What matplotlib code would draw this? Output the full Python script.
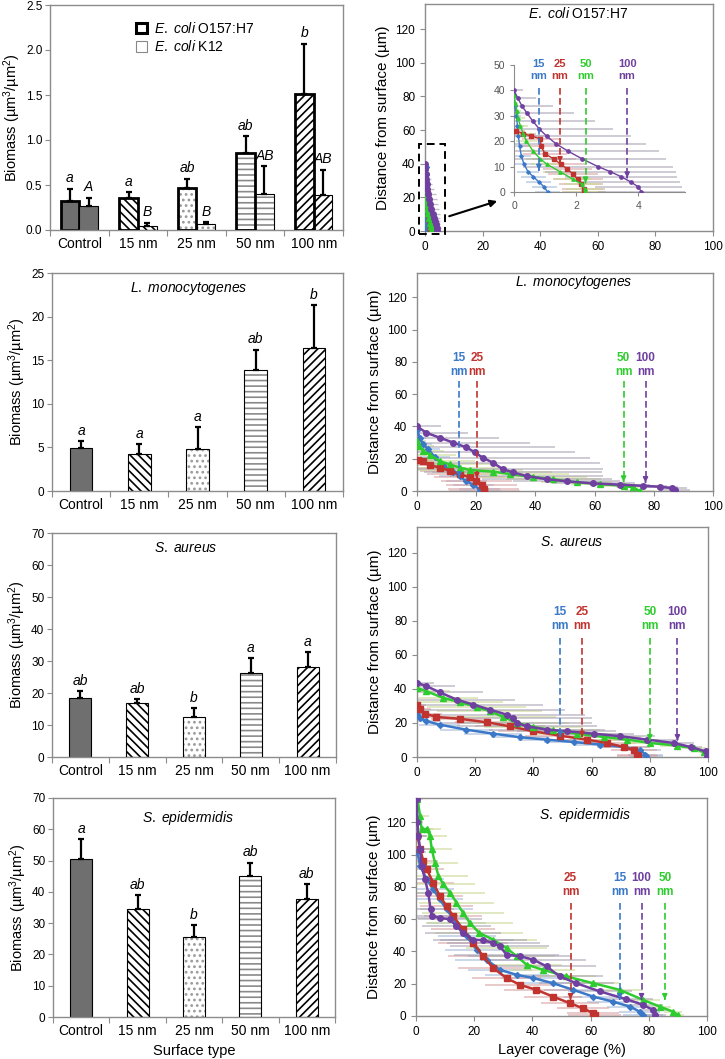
import numpy as np
import matplotlib.pyplot as plt
from matplotlib.patches import Patch, Rectangle

plt.rcParams['font.family'] = ['Liberation Sans', 'DejaVu Sans']
plt.rcParams['mathtext.fontset'] = 'custom'
plt.rcParams['mathtext.rm'] = 'Liberation Sans'
plt.rcParams['mathtext.it'] = 'Liberation Sans:italic'
plt.rcParams['mathtext.bf'] = 'Liberation Sans:bold'
plt.rcParams['hatch.linewidth'] = 1.2

# ---- biomass bar data ----
surfaces = ['Control', '15 nm', '25 nm', '50 nm', '100 nm']

ecoli_o157 = [0.32, 0.36, 0.47, 0.86, 1.51]
ecoli_o157_err = [0.14, 0.06, 0.10, 0.18, 0.56]
ecoli_o157_let = ['a', 'a', 'ab', 'ab', 'b']
ecoli_k12 = [0.27, 0.05, 0.07, 0.40, 0.39]
ecoli_k12_err = [0.09, 0.03, 0.02, 0.31, 0.28]
ecoli_k12_let = ['A', 'B', 'B', 'AB', 'AB']

lmono_bio = [4.9, 4.2, 4.8, 13.9, 16.4]
lmono_err = [0.8, 1.2, 2.5, 2.3, 4.9]
lmono_let = ['a', 'a', 'a', 'ab', 'b']

saur_bio = [18.4, 16.8, 12.6, 26.3, 28.1]
saur_err = [2.2, 1.3, 2.6, 4.6, 4.6]
saur_let = ['ab', 'ab', 'b', 'a', 'a']

sepi_bio = [50.5, 34.5, 25.6, 45.0, 37.7]
sepi_err = [6.3, 4.4, 3.7, 4.3, 4.7]
sepi_let = ['a', 'ab', 'b', 'ab', 'ab']

# ---- layer coverage profiles (coverage %, depth um, sd) ----
sizes = ['15', '25', '50', '100']

ec15_depth = [38, 34, 30, 26, 22, 18, 14, 11, 8, 6, 4, 2, 0]
ec15_cov = [0.0, 0.04, 0.08, 0.11, 0.14, 0.18, 0.24, 0.32, 0.45, 0.62, 0.8, 0.97, 1.08]
ec15_sd = [0.05, 0.1, 0.15, 0.2, 0.25, 0.3, 0.3, 0.35, 0.35, 0.4, 0.4, 0.4, 0.4]
ec25_depth = [24, 23, 22, 21, 18, 15, 13, 11, 9, 7, 5, 3, 1, 0]
ec25_cov = [0.05, 0.3, 0.55, 0.85, 0.87, 1.0, 1.28, 1.5, 1.72, 1.9, 2.05, 2.15, 2.24, 2.25]
ec25_sd = [0.3, 0.4, 0.5, 0.6, 0.6, 0.7, 0.7, 0.8, 0.8, 0.8, 0.8, 0.7, 0.7, 0.7]
ec50_depth = [38, 35, 32, 29, 26, 23, 20, 16, 13, 11, 8, 5, 3, 1, 0]
ec50_cov = [0.0, 0.04, 0.09, 0.14, 0.2, 0.3, 0.4, 0.62, 0.85, 1.05, 1.48, 1.9, 2.2, 2.27, 2.28]
ec50_sd = [0.05, 0.1, 0.15, 0.2, 0.25, 0.3, 0.35, 0.4, 0.45, 0.5, 0.55, 0.6, 0.6, 0.6, 0.6]
ec100_depth = [40, 37, 34, 31, 28, 25, 22, 19, 16, 13, 10, 8, 6, 4, 2, 0]
ec100_cov = [0.0, 0.12, 0.25, 0.42, 0.6, 0.8, 1.05, 1.35, 1.75, 2.2, 2.7, 3.1, 3.45, 3.75, 4.0, 4.1]
ec100_sd = [0.3, 0.6, 1.0, 1.5, 2.0, 2.4, 2.7, 2.9, 2.9, 2.7, 2.4, 2.1, 1.8, 1.6, 1.4, 1.4]
ec_arrow_x = [0.8, 1.48, 2.3, 3.64]
ec_arrow_tip = [7.5, 10.5, 2.5, 4.5]

lm15_depth = [38, 33, 29, 26, 21, 16, 12, 9, 6, 4, 1, 0]
lm15_cov = [0.0, 0.9, 2.0, 3.7, 6.0, 8.8, 12.2, 14.4, 16.7, 19.0, 21.2, 21.4]
lm15_sd = [1, 2, 3, 4, 5, 6, 7, 7, 7, 7, 7, 7]
lm25_depth = [19, 18.5, 16, 14.5, 12.5, 10.5, 8.5, 6.5, 4, 1.5, 0]
lm25_cov = [0.3, 2.0, 4.3, 7.7, 11.0, 14.4, 17.8, 20.0, 21.8, 22.6, 22.7]
lm25_sd = [5, 6, 8, 9, 10, 11, 12, 12, 12, 12, 12]
lm50_depth = [31, 28, 25, 22.5, 18.5, 16.5, 14.5, 13, 12, 10.5, 8.7, 7.3, 5.3, 4.3, 3.2, 2.2, 0]
lm50_cov = [0.0, 0.7, 2.0, 4.3, 7.7, 11.0, 14.4, 17.8, 25.7, 31.4, 39.3, 46.0, 54.0, 61.9, 69.8, 73.1, 75.2]
lm50_sd = [3, 5, 7, 9, 12, 14, 16, 18, 20, 20, 18, 16, 12, 10, 8, 6, 5]
lm100_depth = [40, 36, 33, 30, 27, 24, 20.5, 17.5, 13.5, 11.5, 9.3, 7.3, 6, 4.7, 3.9, 3.2, 2.6, 1.8, 0.6]
lm100_cov = [0.0, 3.2, 7.7, 12.2, 16.7, 19.5, 22.3, 25.7, 29.0, 32.5, 37.0, 43.8, 50.6, 59.6, 68.6, 76.5, 82.2, 86.1, 87.2]
lm100_sd = [8, 14, 20, 26, 30, 34, 36, 36, 34, 30, 26, 22, 18, 14, 10, 8, 6, 5, 5]
lm_arrow_x = [14.2, 20.2, 69.8, 77.2]
lm_arrow_tip = [6.5, 6.0, 4.0, 3.5]

sa15_depth = [25.5, 23, 21, 19, 16, 13.7, 11.6, 10.2, 8.8, 7.3, 5.9, 3.9, 1.4, 0.4]
sa15_cov = [0, 0.9, 3.2, 7.8, 17.0, 26.2, 35.4, 44.6, 53.8, 63.0, 71.0, 76.8, 78.5, 78.7]
sa15_sd = [2, 3, 5, 7, 9, 10, 10, 10, 10, 9, 8, 7, 6, 6]
sa25_depth = [30.8, 28.2, 25.5, 23.5, 22.4, 20.4, 18, 15.1, 12.5, 10.2, 8.2, 5.9, 3.9, 1.4, 0.4]
sa25_cov = [0, 0.9, 2.6, 6.7, 14.7, 23.9, 32.0, 40.0, 49.2, 58.4, 65.3, 71.0, 74.5, 75.6, 75.9]
sa25_sd = [3, 4, 6, 8, 10, 11, 12, 12, 12, 11, 10, 9, 8, 7, 7]
sa50_depth = [40.6, 38.6, 34.7, 32.2, 29.4, 26.9, 23.5, 20, 17.6, 15.7, 13.7, 11.8, 10.2, 8.2, 6.7, 5.1, 2.7, 0.4]
sa50_cov = [0, 3.2, 9.0, 14.7, 20.5, 25.0, 29.7, 34.3, 40.0, 46.9, 54.9, 64.1, 72.2, 80.2, 89.4, 95.2, 98.6, 99.8]
sa50_sd = [5, 8, 12, 15, 17, 18, 18, 18, 17, 16, 15, 13, 11, 9, 6, 4, 2, 1]
sa100_depth = [43.5, 41.6, 38, 33.7, 30.8, 27.8, 24.9, 22.9, 20, 18, 16.1, 15.1, 13.7, 12.2, 10.2, 8.2, 5.9, 3.3, 0.8]
sa100_cov = [0, 3.2, 7.8, 13.6, 19.3, 25.0, 30.8, 33.1, 34.3, 37.7, 44.6, 51.5, 60.7, 69.9, 79.1, 88.3, 94.0, 99.2, 99.8]
sa100_sd = [6, 10, 15, 20, 24, 26, 27, 27, 26, 24, 20, 17, 14, 12, 10, 7, 4, 2, 1]
sa_arrow_x = [49.2, 56.7, 80.0, 89.5]
sa_arrow_tip = [10, 10, 8, 8]

se15_depth = [101.3, 93, 84.7, 78.5, 72.2, 66, 57.7, 49.4, 41.1, 34.9, 28.6, 25.5, 23.5, 20.3, 16.2, 12, 8.9, 5.8, 2.7, 0.6]
se15_cov = [0.5, 1.4, 3.7, 5.9, 8.2, 10.5, 13.9, 17.4, 20.8, 24.3, 28.8, 34.6, 40.3, 47.1, 54.0, 60.9, 67.7, 73.5, 76.9, 78.0]
se15_sd = [3, 4, 6, 7, 8, 9, 10, 10, 11, 11, 11, 11, 11, 11, 10, 10, 9, 8, 7, 7]
se25_depth = [111.7, 103.4, 96.1, 90.9, 82.6, 74.3, 68.1, 61.9, 53.6, 45.3, 37, 29.7, 23.5, 19.3, 16.2, 12, 7.9, 4.8, 1.7, 0.6]
se25_cov = [0.5, 1.4, 2.5, 3.7, 5.9, 8.2, 10.5, 12.8, 16.2, 19.7, 23.1, 26.5, 31.1, 35.7, 41.4, 47.1, 52.9, 57.4, 60.9, 61.4]
se25_sd = [3, 4, 5, 6, 7, 8, 9, 10, 11, 12, 12, 12, 12, 12, 11, 10, 10, 9, 9, 9]
se50_depth = [134.5, 124, 115.8, 115.8, 111.7, 103.4, 95, 86.8, 81.6, 76.4, 70.2, 63.9, 57.7, 51.5, 47.3, 42.1, 37,
              31.8, 28.6, 24.5, 20.3, 16.2, 10, 5.8, 2.7, 0.6]
se50_cov = [0.5, 1.4, 1.9, 3.7, 4.8, 5.4, 6.5, 7.7, 9.4, 11.7, 13.9, 16.2, 18.5, 21.7, 26.5, 31.1, 34.6,
            38.0, 43.7, 51.7, 60.9, 70.0, 78.0, 83.8, 88.3, 90.0]
se50_sd = [2, 3, 4, 5, 6, 7, 8, 10, 11, 12, 13, 14, 15, 15, 15, 14, 13, 12, 11, 10, 9, 8, 6, 4, 3, 2]
se100_depth = [134.5, 120, 111.7, 103.4, 93, 84.7, 76.4, 66, 61.9, 60.8, 59.8, 55.6, 51.5, 47.3, 46.9, 45.3, 43.2,
               38, 37, 34.9, 30.7, 24.5, 20.3, 15.2, 10.4, 6.9, 3.7, 0.6]
se100_cov = [0.2, 0.5, 0.8, 1.4, 1.9, 3.1, 4.2, 5.0, 5.4, 8.2, 11.7, 13.9, 16.2, 19.7, 23.1, 26.5, 28.8,
             31.1, 35.7, 40.3, 44.9, 49.4, 55.1, 63.2, 72.3, 78.0, 81.5, 82.0]
se100_sd = [1, 2, 3, 4, 5, 6, 7, 8, 9, 10, 11, 12, 13, 14, 15, 16, 17, 18, 18, 18, 17, 15, 13, 11, 9, 7, 5, 4]
se_arrow_x = [70.0, 53.1, 85.5, 77.5]
se_arrow_tip = [8.5, 8.5, 8.5, 8.5]

# ---- styles ----
CONTROL_GRAY = '#6f6f6f'
HATCHES = ['', '\\\\\\\\', '...', '---', '////']
HATCH_COLORS = ['black', 'black', '#9a9a9a', '#8a8a8a', 'black']
COLORS = ['#3b78c8', '#c0332f', '#2ecc2e', '#7040a0']
ERR_COLORS = ['#9fb8d8', '#d8a0a0', '#c8d890', '#a8a2b4']
MARKERS = ['D', 's', '^', 'o']
MSIZES = [3, 4, 4, 4]
SPINE = '#8c8c8c'


def style_axes(ax):
    for s in ax.spines.values():
        s.set_color(SPINE)
        s.set_linewidth(1.0)
    ax.tick_params(colors=SPINE, labelcolor='black', labelsize=8.5)


def draw_bars(ax, xs, vals, errs, letters, width, lw, ytop):
    for x, v, h, hc in zip(xs, vals, HATCHES, HATCH_COLORS):
        if h == '':
            ax.bar(x, v, width, color=CONTROL_GRAY, edgecolor='black', lw=lw, zorder=2)
        else:
            ax.bar(x, v, width, color='white', edgecolor=hc, hatch=h, lw=0, zorder=2)
            ax.bar(x, v, width, fill=False, edgecolor='black', lw=lw, zorder=3)
    ax.errorbar(xs, vals, yerr=[np.zeros(len(vals)), errs], fmt='none', ecolor='black',
                elinewidth=1.6, capsize=2.5, capthick=1.6, zorder=4)
    for x, v, e, t in zip(xs, vals, errs, letters):
        ax.text(x, v + e + ytop * 0.015, t, ha='center', va='bottom', style='italic', fontsize=10)


def bar_axes(ax, ymax, ystep, fmt=None):
    style_axes(ax)
    ax.set_xlim(-0.5, 4.5)
    ax.set_ylim(0, ymax)
    ax.set_yticks(np.arange(0, ymax + ystep / 2, ystep))
    if fmt:
        ax.set_yticklabels([fmt % v for v in np.arange(0, ymax + ystep / 2, ystep)])
    ax.set_xticks(np.arange(-0.5, 5, 1))
    ax.set_xticklabels([])
    ax.set_xticks(np.arange(5), minor=True)
    ax.set_xticklabels(surfaces, minor=True)
    ax.tick_params(axis='x', which='minor', length=0, pad=5)
    ax.tick_params(axis='x', which='major', length=4)
    ax.tick_params(axis='y', pad=2)
    ax.set_ylabel('Biomass (µm$^3$/µm$^2$)', fontsize=10.5, labelpad=2)


def draw_profiles(ax, profiles, arrow_x, arrow_tip, arrow_top, label_y, lw=1.8, ms_scale=1.0, fs=8.5):
    for (cov, dep, sd), ec in zip(profiles, ERR_COLORS):
        ax.errorbar(cov, dep, xerr=sd, fmt='none', ecolor=ec, elinewidth=1.1, alpha=0.7, capsize=0, zorder=1)
    for (cov, dep, sd), c, m, ms in zip(profiles, COLORS, MARKERS, MSIZES):
        ax.plot(cov, dep, color=c, lw=lw, marker=m, ms=ms * ms_scale, zorder=3)
    for x, tip, s, c in zip(arrow_x, arrow_tip, sizes, COLORS):
        ax.plot([x, x], [arrow_top, tip + 3 * (arrow_top / 70)], color=c, ls=(0, (4, 2)), lw=1.2, zorder=4)
        ax.annotate('', xy=(x, tip), xytext=(x, tip + 4 * (arrow_top / 70)),
                    arrowprops=dict(arrowstyle='-|>', color=c, lw=1.2, mutation_scale=7), zorder=4)
        ax.text(x, label_y, s + '\nnm', color=c, ha='center', va='center', fontweight='bold',
                fontsize=fs, linespacing=1.25)


def profile_axes(ax, title, tx, ty):
    style_axes(ax)
    ax.set_xlim(0, 100)
    ax.set_ylim(0, 135)
    ax.set_xticks(np.arange(0, 101, 20))
    ax.set_yticks(np.arange(0, 121, 20))
    ax.set_ylabel('Distance from surface (µm)', fontsize=11)
    ax.text(tx, ty, title, transform=ax.transAxes, ha='center', va='center', fontsize=10)


fig = plt.figure(figsize=(7.25, 10.59), dpi=100)
W, H = 725.0, 1059.0


def px_axes(x0, y0, x1, y1):
    return fig.add_axes([x0 / W, 1 - y1 / H, (x1 - x0) / W, (y1 - y0) / H])


xs = np.arange(5)

# ---- row 1: E. coli ----
ax = px_axes(50, 5, 343, 230)
bar_axes(ax, 2.5, 0.5, '%.1f')
draw_bars(ax, xs - 0.16, ecoli_o157, ecoli_o157_err, ecoli_o157_let, 0.32, 2.0, 2.5)
draw_bars(ax, xs + 0.16, ecoli_k12, ecoli_k12_err, ecoli_k12_let, 0.32, 0.8, 2.5)
handles = [Patch(facecolor='white', edgecolor='black', lw=2.2),
           Patch(facecolor='white', edgecolor='#888888', lw=0.8)]
ax.legend(handles, [r'$\it{E.\ coli}$ O157:H7', r'$\it{E.\ coli}$ K12'], loc='upper left',
          bbox_to_anchor=(0.25, 0.985), frameon=False, fontsize=10, handlelength=0.8,
          handleheight=0.8, labelspacing=0.25, handletextpad=0.5)

ec_profiles = [(ec15_cov, ec15_depth, ec15_sd), (ec25_cov, ec25_depth, ec25_sd),
               (ec50_cov, ec50_depth, ec50_sd), (ec100_cov, ec100_depth, ec100_sd)]
ax = px_axes(425, 4, 713, 231)
profile_axes(ax, r'$\it{E.\ coli}$ O157:H7', 0.53, 0.96)
for (cov, dep, sd), ec in zip(ec_profiles, ERR_COLORS):
    ax.errorbar(cov, dep, xerr=sd, fmt='none', ecolor=ec, elinewidth=1.0, alpha=0.7, capsize=0, zorder=1)
for (cov, dep, sd), c, m in zip(ec_profiles, COLORS, MARKERS):
    ax.plot(cov, dep, color=c, lw=2.5, marker=m, ms=4, zorder=3)
ax.add_patch(Rectangle((-2.2, -1.6), 9.3, 53.1, fill=False, ls=(0, (4, 2.5)), lw=1.4,
                       edgecolor='black', clip_on=False, zorder=5))
ax.annotate('', xy=(26, 18.3), xytext=(7.5, 8.3),
            arrowprops=dict(arrowstyle='-|>', color='black', lw=1.5, mutation_scale=10))

ins = px_axes(514, 65, 685, 192)
ins.set_xlim(0, 5.5)
ins.set_ylim(0, 50)
ins.patch.set_alpha(0)
for s in ['top', 'right']:
    ins.spines[s].set_visible(False)
for s in ['left', 'bottom']:
    ins.spines[s].set_color(SPINE)
ins.set_xticks([0, 2, 4])
ins.set_yticks(np.arange(0, 51, 10))
ins.tick_params(colors=SPINE, labelcolor='#555555', labelsize=7.5, length=3)
draw_profiles(ins, ec_profiles, ec_arrow_x, ec_arrow_tip, 41, 48, lw=1.0, ms_scale=0.6, fs=8)

# ---- row 2: L. monocytogenes ----
ax = px_axes(52, 273, 343, 491)
bar_axes(ax, 25, 5)
draw_bars(ax, xs, lmono_bio, lmono_err, lmono_let, 0.39, 0.8, 25)
ax.text(0.47, 0.93, r'$\it{L.\ monocytogenes}$', transform=ax.transAxes, ha='center', va='center', fontsize=10)

ax = px_axes(417, 273, 713, 491)
profile_axes(ax, r'$\it{L.\ monocytogenes}$', 0.53, 0.955)
lm_profiles = [(lm15_cov, lm15_depth, lm15_sd), (lm25_cov, lm25_depth, lm25_sd),
               (lm50_cov, lm50_depth, lm50_sd), (lm100_cov, lm100_depth, lm100_sd)]
draw_profiles(ax, lm_profiles, lm_arrow_x, lm_arrow_tip, 68, 78)

# ---- row 3: S. aureus ----
ax = px_axes(52, 533, 336, 757)
bar_axes(ax, 70, 10)
draw_bars(ax, xs, saur_bio, saur_err, saur_let, 0.39, 0.8, 70)
ax.text(0.47, 0.935, r'$\it{S.\ aureus}$', transform=ax.transAxes, ha='center', va='center', fontsize=10)

ax = px_axes(417, 527, 708, 757)
profile_axes(ax, r'$\it{S.\ aureus}$', 0.53, 0.935)
sa_profiles = [(sa15_cov, sa15_depth, sa15_sd), (sa25_cov, sa25_depth, sa25_sd),
               (sa50_cov, sa50_depth, sa50_sd), (sa100_cov, sa100_depth, sa100_sd)]
draw_profiles(ax, sa_profiles, sa_arrow_x, sa_arrow_tip, 70, 81)

# ---- row 4: S. epidermidis ----
ax = px_axes(53, 798, 335, 1017)
bar_axes(ax, 70, 10)
draw_bars(ax, xs, sepi_bio, sepi_err, sepi_let, 0.39, 0.8, 70)
ax.text(0.48, 0.91, r'$\it{S.\ epidermidis}$', transform=ax.transAxes, ha='center', va='center', fontsize=10)
ax.set_xlabel('Surface type', fontsize=10.5)

ax = px_axes(416, 798, 707, 1016)
profile_axes(ax, r'$\it{S.\ epidermidis}$', 0.58, 0.92)
se_profiles = [(se15_cov, se15_depth, se15_sd), (se25_cov, se25_depth, se25_sd),
               (se50_cov, se50_depth, se50_sd), (se100_cov, se100_depth, se100_sd)]
draw_profiles(ax, se_profiles, se_arrow_x, se_arrow_tip, 70, 81)
ax.set_xlabel('Layer coverage (%)', fontsize=10.5)

fig.savefig('out.png', dpi=100)
